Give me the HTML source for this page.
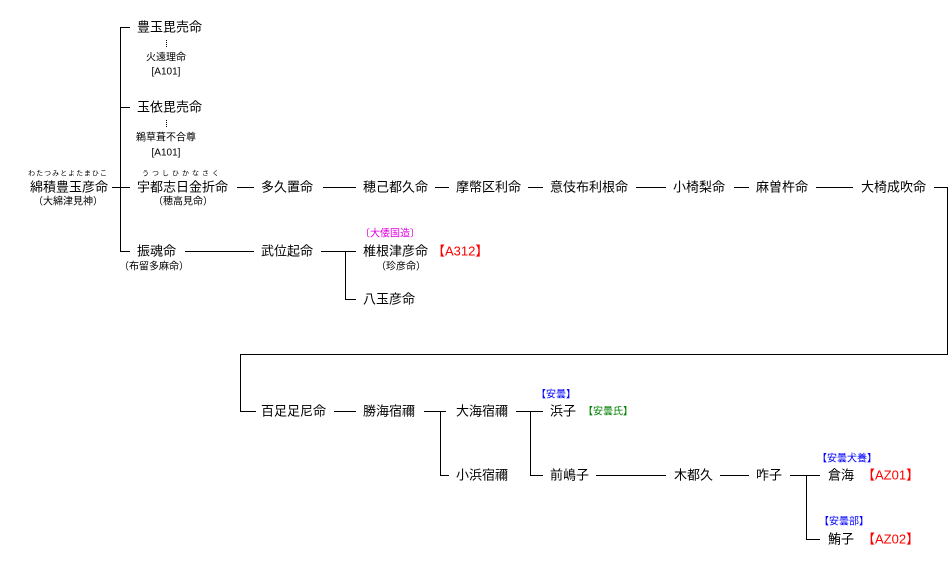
<!DOCTYPE html>
<html><head><meta charset="utf-8"><style>
html,body{margin:0;padding:0;background:#fff;}
svg{display:block;}
text{font-family:"Liberation Sans","Noto Sans CJK JP",sans-serif;dominant-baseline:central;}
.m{font-size:13px;fill:#000;}
.s{font-size:10px;fill:#000;}
.f{font-size:7px;fill:#000;}
</style></head><body>
<svg width="952" height="567" viewBox="0 0 952 567" xmlns="http://www.w3.org/2000/svg">
<g stroke="#000" stroke-width="1" fill="none" shape-rendering="crispEdges">
<path d="M120.5 27V251M120 27.5H130M120 107.5H130M120 251.5H130M112 187.5H130"/>
<path d="M166.5 40V48M166.5 120V128" stroke-dasharray="1,1"/>
<path d="M237 187.5H254M323 187.5H356M435 187.5H449M528 187.5H543M636 187.5H666M734 187.5H749M816 187.5H853M934 187.5H947.5V354.5H240.5V411.5H256"/>
<path d="M185 251.5H254M321 251.5H356M345.5 251V299.5H356"/>
<path d="M334 411.5H356M424 411.5H446M440.5 411V475.5H449M516 411.5H543M530.5 411V475.5H543"/>
<path d="M596 475.5H666M720 475.5H749M790 475.5H820M806.5 475V539.5H820"/>
</g>
<text class="m" x="137" y="27">豊玉毘売命</text>
<text class="s" x="166" y="58" text-anchor="middle">火遠理命</text>
<text class="s" x="166" y="72" text-anchor="middle">[A101]</text>
<text class="m" x="137" y="107">玉依毘売命</text>
<text class="s" x="166" y="138" text-anchor="middle">鵜草葺不合尊</text>
<text class="s" x="166" y="153" text-anchor="middle">[A101]</text>
<text class="f" x="68" y="174" text-anchor="middle" letter-spacing="1">わたつみとよたまひこ</text>
<text class="f" x="182" y="174" text-anchor="middle" letter-spacing="3">うつしひかなさく</text>
<text class="m" x="30" y="187">綿積豊玉彦命</text>
<text class="s" x="68" y="202" text-anchor="middle">（大綿津見神）</text>
<text class="m" x="137" y="187">宇都志日金折命</text>
<text class="s" x="183" y="202" text-anchor="middle">（穂高見命）</text>
<text class="m" x="261" y="187">多久置命</text>
<text class="m" x="363" y="187">穂己都久命</text>
<text class="m" x="456" y="187">摩幣区利命</text>
<text class="m" x="550" y="187">意伎布利根命</text>
<text class="m" x="673" y="187">小椅梨命</text>
<text class="m" x="756" y="187">麻曽杵命</text>
<text class="m" x="861" y="187">大椅成吹命</text>
<text class="m" x="137" y="251">振魂命</text>
<text class="s" x="154" y="267" text-anchor="middle">（布留多麻命）</text>
<text class="m" x="261" y="251">武位起命</text>
<text class="s" x="390" y="234" text-anchor="middle" fill="#e000e0" style="fill:#e000e0">〔大倭国造〕</text>
<text class="m" x="363" y="251">椎根津彦命</text>
<text class="m" x="432" y="251" style="fill:#ff0000">【A312】</text>
<text class="s" x="401" y="267" text-anchor="middle">（珍彦命）</text>
<text class="m" x="363" y="299">八玉彦命</text>
<text class="m" x="261" y="411">百足足尼命</text>
<text class="m" x="363" y="411">勝海宿禰</text>
<text class="m" x="456" y="411">大海宿禰</text>
<text class="s" x="556" y="395" text-anchor="middle" style="fill:#0000ff">【安曇】</text>
<text class="m" x="550" y="411">浜子</text>
<text class="s" x="608" y="412" text-anchor="middle" style="fill:#008000">【安曇氏】</text>
<text class="m" x="456" y="475">小浜宿禰</text>
<text class="m" x="550" y="475">前嶋子</text>
<text class="m" x="674" y="475">木都久</text>
<text class="m" x="756" y="475">咋子</text>
<text class="s" x="847" y="459" text-anchor="middle" style="fill:#0000ff">【安曇犬養】</text>
<text class="m" x="828" y="475">倉海</text>
<text class="m" x="862" y="475" style="fill:#ff0000">【AZ01】</text>
<text class="s" x="844" y="522" text-anchor="middle" style="fill:#0000ff">【安曇部】</text>
<text class="m" x="828" y="539">鮪子</text>
<text class="m" x="862" y="539" style="fill:#ff0000">【AZ02】</text>
</svg>
</body></html>
